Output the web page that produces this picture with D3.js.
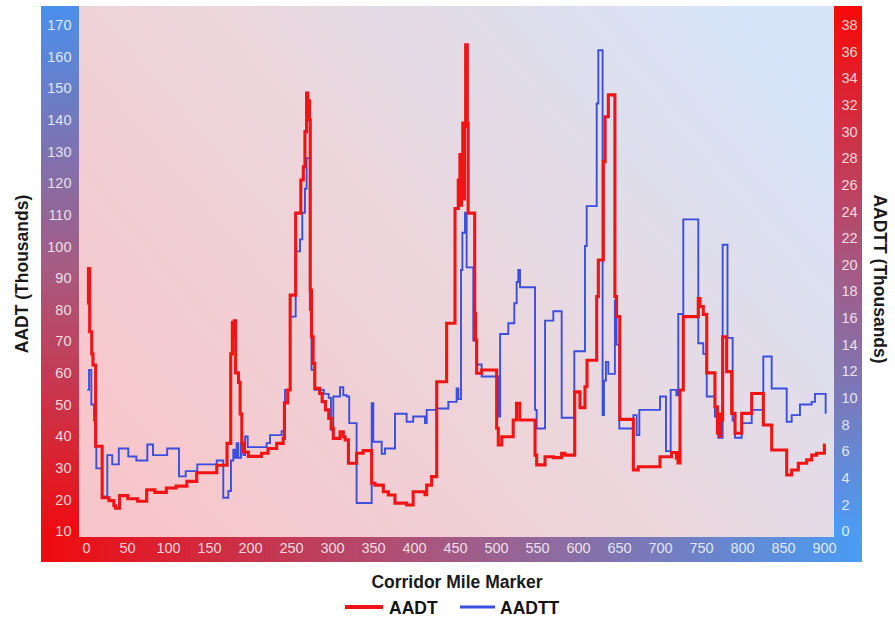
<!DOCTYPE html>
<html>
<head>
<meta charset="utf-8">
<script src="https://cdn.jsdelivr.net/npm/d3@7"></script>
<style>
  body { margin: 0; background: #ffffff; }
  svg { display: block; font-family: "Liberation Sans", Arial, Helvetica, sans-serif; }
</style>
</head>
<body>
<svg id="chart" width="895" height="618"></svg>
<script>
// Tick values for the three axes
const mileTicks = d3.range(0, 901, 50);
const aadtTicks = d3.range(10, 171, 10);
const aadttTicks = d3.range(0, 39, 2);

// AADT (thousands) along the corridor: [mile marker where the segment starts, value]
const aadtSteps = [
  [1.5, 82], [3, 93], [4.5, 73], [7, 66], [8.5, 62.5], [11.8, 36.8], [19.7, 20.5],
  [28, 19.6], [34, 18], [36, 17.2], [41, 21.2], [51, 20.2], [63, 19.4], [74, 23],
  [84, 22.2], [98, 23.6], [110, 24.2], [123, 25.7], [135, 28.4], [159.5, 30.8],
  [172, 37.7], [176.5, 66], [178.5, 76], [180, 71], [181, 76.5], [182.5, 60],
  [186, 57], [188, 47], [190, 37.8], [192, 35], [198, 33.6], [214, 34.6],
  [222, 36.1], [232.5, 37.7], [240.5, 39.3], [242, 50.5], [246, 54.6], [249, 84.6],
  [255.7, 110.5], [262, 121], [265, 125.2], [267, 136.3], [269, 148.5], [270.5, 141],
  [271.5, 146], [272.5, 140], [273.5, 86.2], [275, 71.4], [277, 63], [279, 55.1],
  [285, 53.5], [288, 50.9], [292, 48.3], [296, 45.6], [299, 42.5], [301.6, 39.3],
  [309.8, 41.4], [313.8, 39.8], [316, 38.8], [320, 31.4], [330, 34.6], [338, 35.4],
  [348.4, 25.1], [352.4, 24.5], [362.6, 22.4], [368.7, 21.4], [376.8, 18.8], [391, 18.2],
  [399, 22.4], [413.4, 21.5], [415.4, 24.5], [421.5, 27.2], [427.7, 57.2], [439.8, 75.7],
  [450, 112], [454, 121], [456, 129], [457, 113], [458, 128], [459.5, 139], [460.5, 115],
  [461.5, 138], [463, 163.7], [465, 139], [466, 110.5], [474, 78.8], [475, 70.4],
  [476.4, 59.9], [482.5, 60.9], [500.8, 42.5], [502.8, 37.2], [507, 39.8], [521, 45.1],
  [525, 50.4], [529, 45.1], [547.6, 34], [549.6, 30.9], [559.8, 33.5], [570, 33.2],
  [580, 34.6], [584, 34], [596, 54], [602.4, 49], [608.5, 55.6], [611, 64], [622.8, 84.1],
  [624.8, 95.7], [630.9, 126.8], [633, 141], [637, 147.9], [645, 84.1], [647, 77.8],
  [651, 45.3], [667.5, 29.3], [673.5, 30.3], [700, 33.5], [714, 34.8], [720, 33],
  [721, 34.8], [722, 31.5], [724.4, 54.6], [728.4, 77.8], [746.7, 83.5], [748.8, 81],
  [752.8, 78.5], [757, 60], [767, 49.3], [770, 41], [772, 47], [773, 40], [774, 45],
  [776.4, 71.4], [781.3, 60.4], [787.4, 47.2], [791.5, 40.9], [799.6, 47.2], [811.8, 53.5],
  [826, 43.5], [836.2, 35.6], [854.5, 27.7], [860.6, 29.3], [868.7, 31.4], [878.9, 32.5],
  [885, 34], [891, 34.6], [900.5, 37.2], [902, 37.2]
];

// AADTT (thousands) along the corridor: [mile marker where the segment starts, value]
const aadttSteps = [
  [1.6, 10.6], [3.7, 12.1], [6.5, 9.5], [9.8, 8.3], [11.5, 6.3], [12.6, 4.7], [19.5, 2.6],
  [26, 5.7], [32, 5.0], [40, 6.2], [51.6, 5.6], [61.4, 5.3], [74.8, 6.5], [81.7, 5.7],
  [99, 6.2], [113.4, 4.1], [121.6, 4.5], [135.7, 5.0], [159.4, 5.3], [167.4, 2.5],
  [173.6, 3.0], [176.8, 5.3], [179.6, 6.1], [181.7, 5.5], [183.7, 6.6], [185.7, 5.5],
  [189, 6.6], [191.9, 5.7], [194, 7.1], [197.2, 6.3], [220.3, 6.6], [224.4, 7.2],
  [238.6, 7.5], [242.7, 10.6], [248.8, 16.1], [255.7, 21], [261, 21.9], [263.8, 23.9],
  [267, 25.7], [269, 28], [273, 16.6], [275, 12.1], [279, 10.6], [290, 10.3], [296, 10.0],
  [298.8, 7.6], [301.6, 10.1], [309.8, 10.8], [313.8, 10.2], [318, 10.1], [321, 8.1],
  [330, 2.1], [348.4, 9.6], [350.4, 6.7], [360.6, 5.8], [364.6, 6.2], [376.8, 8.8],
  [391, 8.2], [399, 8.6], [413.4, 8.1], [415.5, 9.1], [427.7, 9.2], [441.9, 9.7],
  [452, 10.7], [454, 9.9], [457.3, 19.6], [459, 22.4], [462.2, 23.9], [464.2, 19.8],
  [472.3, 14.3], [476.4, 12.5], [482.5, 11.6], [502.8, 8.6], [505, 14.8], [515, 15.6],
  [522.3, 17.1], [525.2, 18.7], [527.2, 19.6], [529.3, 18.3], [547.6, 9.1], [549.6, 7.7],
  [559.8, 15.8], [569.9, 16.5], [580.1, 8.5], [595.5, 13.5], [608.5, 21.4], [610.6, 24.4],
  [622.8, 32.1], [624.8, 36.1], [630, 8.7], [631.7, 11.3], [634, 12.7], [637, 11.8],
  [645, 17.3], [647, 14], [650.4, 7.7], [667.5, 8.7], [671.5, 7.2], [674.8, 9.1],
  [700, 10.1], [707.3, 6.0], [713, 10.6], [720, 10.2], [722.3, 16.3], [728.4, 23.4],
  [746.7, 14.1], [752.8, 13.3], [757, 10.1], [767, 8.6], [771, 7.0], [776.4, 21.5],
  [782.3, 14.5], [788.6, 8.3], [791.5, 7.0], [799.6, 8.1], [811.8, 9.1], [826, 13.1],
  [836.2, 10.7], [854.5, 8.2], [860.6, 8.7], [870.7, 9.5], [885, 9.7], [889, 10.3],
  [902, 10.3], [902, 8.8]
];

const svg = d3.select("#chart");

// Frame geometry
const frame = { left: 41, right: 862, top: 6, bottom: 562 };
const plot = { left: 79, right: 834, top: 6, bottom: 537 };

// Scales
const x = d3.scaleLinear().domain([0, 900]).range([86, 824]);
const yL = d3.scaleLinear().domain([10, 170]).range([531, 25]);
const yR = d3.scaleLinear().domain([0, 38]).range([531, 25]);

// Gradients
const defs = svg.append("defs");
function grad(id, x1, y1, x2, y2, stops) {
  const g = defs.append("linearGradient").attr("id", id)
    .attr("x1", x1).attr("y1", y1).attr("x2", x2).attr("y2", y2);
  stops.forEach(([o, c]) => g.append("stop").attr("offset", o).attr("stop-color", c));
}
grad("bgGrad", "0", "0.8", "1", "0.2", [[0, "#f7c6ca"], [0.5, "#ebd7dd"], [1, "#d5e4f9"]]);
grad("leftGrad", "0", "0", "0", "1", [[0, "#4a90ec"], [0.5, "#a85a80"], [1, "#f00a0e"]]);
grad("bottomGrad", "0", "0", "1", "0", [[0, "#f00a0e"], [0.5, "#a45a84"], [1, "#4a9cf4"]]);
grad("rightGrad", "0", "0", "0", "1", [[0, "#f80808"], [0.5, "#a45a84"], [1, "#4a9cf6"]]);

// Background panels
svg.append("rect").attr("x", plot.left).attr("y", plot.top)
  .attr("width", plot.right - plot.left).attr("height", plot.bottom - plot.top)
  .attr("fill", "url(#bgGrad)");
svg.append("rect").attr("x", frame.left).attr("y", frame.top)
  .attr("width", plot.left - frame.left).attr("height", plot.bottom - frame.top)
  .attr("fill", "url(#leftGrad)");
svg.append("rect").attr("x", plot.right).attr("y", frame.top)
  .attr("width", frame.right - plot.right).attr("height", plot.bottom - frame.top)
  .attr("fill", "url(#rightGrad)");
svg.append("rect").attr("x", frame.left).attr("y", plot.bottom)
  .attr("width", frame.right - frame.left).attr("height", frame.bottom - plot.bottom)
  .attr("fill", "url(#bottomGrad)");

// Axes (labels only, no domain lines or tick marks)
const tickStyle = g => {
  g.select(".domain").remove();
  g.selectAll(".tick line").remove();
  g.selectAll(".tick text")
    .attr("fill", "rgba(255,255,255,0.82)")
    .style("font-size", "14.5px");
};

svg.append("g").attr("transform", "translate(71.5,0)")
  .call(d3.axisLeft(yL).tickValues(aadtTicks).tickSize(0).tickPadding(0))
  .call(tickStyle);

svg.append("g").attr("transform", "translate(841.5,0)")
  .call(d3.axisRight(yR).tickValues(aadttTicks).tickSize(0).tickPadding(0))
  .call(tickStyle);

svg.append("g").attr("transform", "translate(0,543)")
  .call(d3.axisBottom(x).tickValues(mileTicks).tickSize(0).tickPadding(0))
  .call(tickStyle);

// Series lines
const lineL = d3.line().x(d => x(d[0])).y(d => yL(d[1])).curve(d3.curveStepAfter);
const lineR = d3.line().x(d => x(d[0])).y(d => yR(d[1])).curve(d3.curveStepAfter);

svg.append("path").datum(aadttSteps)
  .attr("d", lineR).attr("fill", "none")
  .attr("stroke", "#3a4fe0").attr("stroke-width", 1.9)
  .attr("stroke-linejoin", "miter");

svg.append("path").datum(aadtSteps)
  .attr("d", lineL).attr("fill", "none")
  .attr("stroke", "#f01414").attr("stroke-width", 3.1)
  .attr("stroke-linejoin", "miter");

// Axis titles
svg.append("text")
  .attr("transform", "translate(28,274) rotate(-90)")
  .attr("text-anchor", "middle")
  .style("font-size", "17.5px").style("font-weight", "bold").attr("fill", "#1a1a1a")
  .text("AADT (Thousands)");

svg.append("text")
  .attr("transform", "translate(874,279) rotate(90)")
  .attr("text-anchor", "middle")
  .style("font-size", "17.5px").style("font-weight", "bold").attr("fill", "#1a1a1a")
  .text("AADTT (Thousands)");

svg.append("text")
  .attr("x", 457).attr("y", 588)
  .attr("text-anchor", "middle")
  .style("font-size", "17.5px").style("font-weight", "bold").attr("fill", "#1a1a1a")
  .text("Corridor Mile Marker");

// Legend
const legend = [
  { name: "AADT", color: "#f01414", width: 4, x0: 345, x1: 383, tx: 389 },
  { name: "AADTT", color: "#3a4fe0", width: 3, x0: 460, x1: 495, tx: 500 }
];
const lg = svg.append("g");
legend.forEach(d => {
  lg.append("line").attr("x1", d.x0).attr("x2", d.x1).attr("y1", 607).attr("y2", 607)
    .attr("stroke", d.color).attr("stroke-width", d.width);
  lg.append("text").attr("x", d.tx).attr("y", 614)
    .style("font-size", "17.5px").style("font-weight", "bold").attr("fill", "#111")
    .text(d.name);
});
</script>
</body>
</html>
